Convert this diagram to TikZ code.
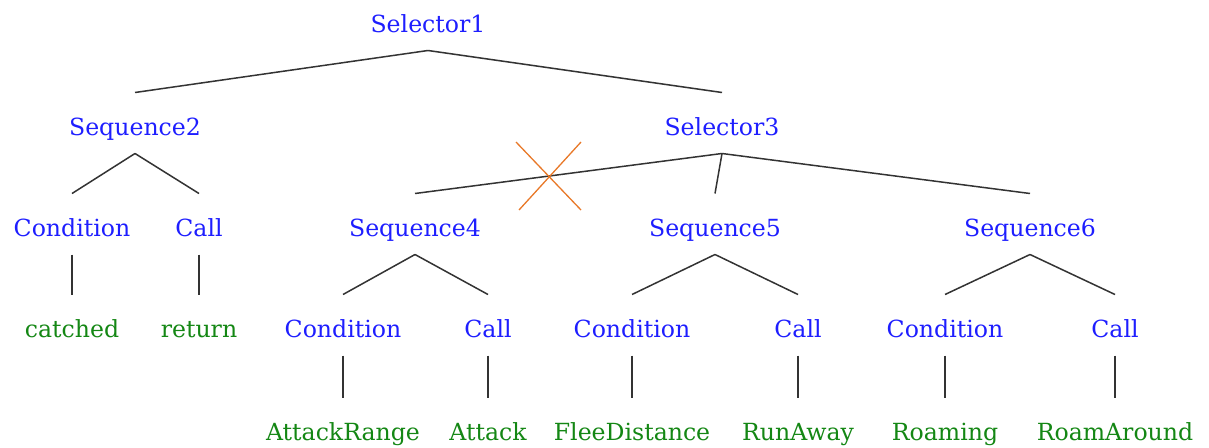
\documentclass[tikz,border=0pt]{standalone}
\usepackage{fontspec}
\setmainfont{DejaVu Serif}
\definecolor{ctrlblue}{RGB}{30,30,255}
\definecolor{leafgreen}{RGB}{20,135,20}
\definecolor{cutorange}{RGB}{232,120,40}
\newcommand\treeedge[2]{\draw[link] ([yshift=-26.5pt]#1.center) -- ([yshift=34.5pt]#2.center);}
\begin{document}
\begin{tikzpicture}[x=1pt,y=-1pt,
  every node/.style={font=\fontsize{23.6}{28}\selectfont, inner sep=0pt,
    text height=17pt, text depth=0pt, anchor=center},
  ctl/.style={text=ctrlblue},
  lf/.style={text=leafgreen},
  link/.style={draw=black!80, line width=1.5pt},
  cutmark/.style={draw=cutorange, line width=1.3pt}]
\useasboundingbox (0,0) rectangle (1209,447);

% control nodes
\node[ctl] (s1) at (428,24) {Selector1};
\node[ctl] (s2) at (135,127) {Sequence2};
\node[ctl] (s3) at (722,127) {Selector3};
\node[ctl] (c2) at (72,228) {Condition};
\node[ctl] (k2) at (199,228) {Call};
\node[ctl] (q4) at (415,228) {Sequence4};
\node[ctl] (q5) at (715,228) {Sequence5};
\node[ctl] (q6) at (1030,228) {Sequence6};
\node[ctl] (c4) at (343,329) {Condition};
\node[ctl] (k4) at (488,329) {Call};
\node[ctl] (c5) at (632,329) {Condition};
\node[ctl] (k5) at (798,329) {Call};
\node[ctl] (c6) at (945,329) {Condition};
\node[ctl] (k6) at (1115,329) {Call};

% leaves
\node[lf] (l1) at (72,329) {catched};
\node[lf] (l2) at (199,329) {return};
\node[lf] (l3) at (343,432) {AttackRange};
\node[lf] (l4) at (488,432) {Attack};
\node[lf] (l5) at (632,432) {FleeDistance};
\node[lf] (l6) at (798,432) {RunAway};
\node[lf] (l7) at (945,432) {Roaming};
\node[lf] (l8) at (1115,432) {RoamAround};

% branches
\treeedge{s1}{s2}
\treeedge{s1}{s3}
\treeedge{s2}{c2}
\treeedge{s2}{k2}
\treeedge{s3}{q4}
\treeedge{s3}{q5}
\treeedge{s3}{q6}
\treeedge{c2}{l1}
\treeedge{k2}{l2}
\treeedge{q4}{c4}
\treeedge{q4}{k4}
\treeedge{q5}{c5}
\treeedge{q5}{k5}
\treeedge{q6}{c6}
\treeedge{q6}{k6}
\treeedge{c4}{l3}
\treeedge{k4}{l4}
\treeedge{c5}{l5}
\treeedge{k5}{l6}
\treeedge{c6}{l7}
\treeedge{k6}{l8}

% cut mark on the Selector3 -> Sequence4 branch
\coordinate (cut) at (548,176);
\draw[cutmark] ([shift={(-32,-34)}]cut) -- ([shift={(33,34)}]cut);
\draw[cutmark] ([shift={(33,-34)}]cut) -- ([shift={(-29,34)}]cut);
\end{tikzpicture}
\end{document}
